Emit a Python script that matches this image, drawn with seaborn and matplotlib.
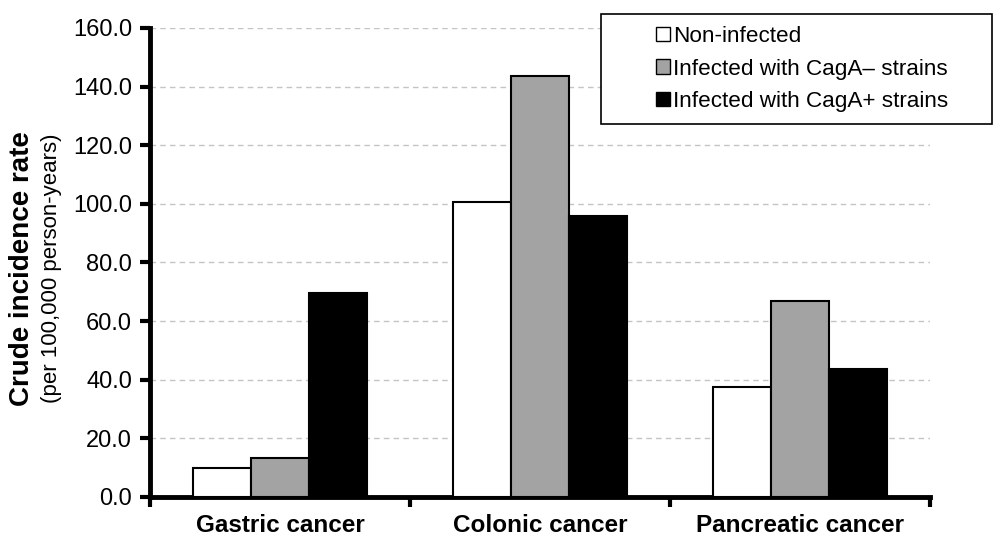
import matplotlib
matplotlib.use("Agg")
import matplotlib.pyplot as plt
import matplotlib.patches as mpatches
import seaborn as sns
import pandas as pd

categories = ["Gastric cancer", "Colonic cancer", "Pancreatic cancer"]
series = ["Non-infected", "Infected with CagA\u2013 strains", "Infected with CagA+ strains"]
non_infected = [10.0, 100.7, 37.6]
caga_neg = [13.3, 143.6, 66.8]
caga_pos = [69.7, 95.9, 43.7]
yticks = [0, 20, 40, 60, 80, 100, 120, 140, 160]
colors = ["#ffffff", "#a3a3a3", "#000000"]

rows = []
for s, vals in zip(series, [non_infected, caga_neg, caga_pos]):
    for c, v in zip(categories, vals):
        rows.append({"Cancer": c, "Group": s, "Rate": v})
df = pd.DataFrame(rows)

sns.set_theme(style="ticks")
plt.rcParams["font.family"] = ["Liberation Sans", "DejaVu Sans"]
plt.rcParams["text.color"] = "black"
plt.rcParams["xtick.labelcolor"] = "black"
plt.rcParams["ytick.labelcolor"] = "black"
plt.rcParams["axes.labelcolor"] = "black"

fig = plt.figure(figsize=(9.97, 5.37), dpi=100)
ax = fig.add_axes([0.1505, 0.0745, 0.7825, 0.8735])

sns.barplot(data=df, x="Cancer", y="Rate", hue="Group", order=categories,
            hue_order=series, palette=colors, width=0.67, gap=0,
            edgecolor="black", linewidth=1.5, saturation=1, ax=ax,
            legend=False, zorder=3)

ax.set_ylim(0, 160)
ax.set_xlim(-0.5, 2.5)
ax.set_yticks(yticks)
ax.set_yticklabels([f"{t:.1f}" for t in yticks], fontsize=17, color="black")
ax.yaxis.grid(True, linestyle=(0, (4, 3)), color="#c4c4c4", linewidth=1, zorder=0)
ax.set_axisbelow(True)
ax.set_xticks(range(len(categories)))
ax.set_xticklabels(categories, fontsize=17.5, fontweight="bold", color="black")
ax.set_xticks([-0.5, 0.5, 1.5, 2.5], minor=True)
ax.tick_params(axis="x", which="major", bottom=True, length=0, pad=12)
ax.tick_params(axis="x", which="minor", bottom=True, length=7, width=3, color="black", direction="out")
ax.tick_params(axis="y", which="major", left=True, length=7, width=3, color="black", direction="out", pad=6)
ax.set_xlabel("")
ax.set_ylabel("")
for side in ["top", "right"]:
    ax.spines[side].set_visible(False)
for side in ["left", "bottom"]:
    ax.spines[side].set_linewidth(3.5)
    ax.spines[side].set_color("black")

fig.text(0.022, 0.5, "Crude incidence rate", rotation=90, ha="center", va="center",
         fontsize=20, fontweight="bold", color="black")
fig.text(0.052, 0.5, "(per 100,000 person-years)", rotation=90, ha="center", va="center",
         fontsize=16, color="black")

# legend box
rect = mpatches.Rectangle((0.603, 0.769), 0.392, 0.205, transform=fig.transFigure,
                          facecolor="white", edgecolor="black", linewidth=1.2, zorder=5)
fig.patches.append(rect)
handles = [mpatches.Patch(facecolor=c, edgecolor="black", linewidth=1) for c in colors]
leg = fig.legend(handles, series, loc="center left", bbox_to_anchor=(0.658, 0.8715),
                 frameon=False, fontsize=16.2, handlelength=0.6, handleheight=0.6,
                 handletextpad=0.15, labelspacing=0.5, borderpad=0, borderaxespad=0,
                 labelcolor="black")
leg.set_zorder(6)

fig.savefig("out.png", dpi=100)
